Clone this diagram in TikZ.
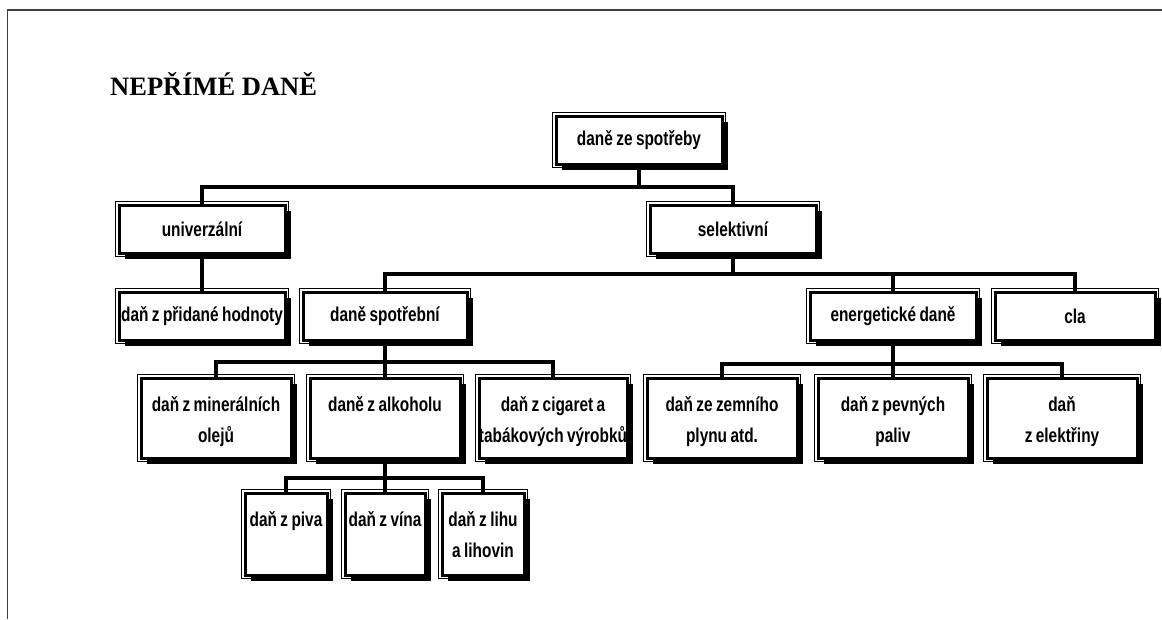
\documentclass[tikz,border=0pt]{standalone}
\usepackage{fontspec}
\setmainfont{Liberation Sans}[FakeStretch=0.77,WordSpace=0.8]
\newfontfamily\titlefont{Liberation Serif}
\usetikzlibrary{shadows}
\tikzset{
  tb/.style={draw, line width=3pt, fill=white, inner sep=0pt, align=center,
    drop shadow={shadow xshift=5.5pt, shadow yshift=-5.5pt, fill=black, opacity=1},
    font=\fontsize{20}{31}\selectfont\bfseries,
    execute at begin node={\spaceskip=\fontdimen2\font\xspaceskip=\fontdimen2\font\relax}},
  lv/.style={tb, minimum width=#1, minimum height=48pt},
  tall/.style 2 args={tb, text width=#1, text height=33pt, text depth=#2},
  conn/.style={line width=3.4pt, line cap=rect},
  thinframe/.style={line width=1.1pt},
}
\begin{document}
\begin{tikzpicture}[x=1pt,y=-1pt]
\useasboundingbox (0,0) rectangle (1162,619);
\fill[white] (0,0) rectangle (1162,619);
\draw[line width=1.4pt, black!75] (7.5,619) -- (7.5,10) -- (1162,10);

\node[anchor=base west, inner sep=0pt, font=\titlefont\bfseries\fontsize{26.5}{30}\selectfont] (title) at (110,95) {NEPŘÍMÉ DANĚ};

% level 1-2
\node[lv=166pt] (top) at (639,140) {daně ze spotřeby};
\node[lv=166pt] (univ) at (202,229) {univerzální};
\node[lv=166pt] (sel) at (733,229) {selektivní};
% level 3
\node[lv=166pt] (dph) at (202,316) {daň z přidané hodnoty};
\node[lv=164pt] (spot) at (385,316) {daně spotřební};
\node[lv=166pt] (energ) at (893,316) {energetické daně};
\node[lv=160pt] (cla) at (1075,316) {cla};
% level 4
\node[tall={150pt}{47pt}] (min) at (216,418) {daň z minerálních\\olejů};
\node[tall={150pt}{47pt}] (alk) at (385,418) {daně z alkoholu};
\node[tall={148pt}{47pt}] (cig) at (553,418) {daň z cigaret a\\\makebox[\linewidth]{tabákových výrobků}};
\node[tall={150pt}{47pt}] (zem) at (722,418) {daň ze zemního\\plynu atd.};
\node[tall={150pt}{47pt}] (pev) at (893,418) {daň z pevných\\paliv};
\node[tall={150pt}{47pt}] (ele) at (1062,418) {daň\\z elektřiny};
% level 5
\node[tall={82pt}{49pt}] (piv) at (286,534) {daň z piva};
\node[tall={80pt}{49pt}] (vin) at (385,534) {daň z vína};
\node[tall={82pt}{49pt}] (lih) at (483,534) {daň z lihu\\a lihovin};

\foreach \n in {top,univ,sel,dph,spot,energ,cla,min,alk,cig,zem,pev,ele,piv,vin,lih}
  \draw[thinframe] ([xshift=-2pt,yshift=2pt]\n.north west) rectangle ([xshift=2pt,yshift=-2pt]\n.south east);

% connectors
\coordinate (j1) at (639,187);
\draw[conn] (top.south) -- (j1);
\draw[conn] (univ.north) |- (j1);
\draw[conn] (sel.north) |- (j1);
\draw[conn] (univ.south) -- (dph.north);

\coordinate (j2) at (733,274);
\draw[conn] (sel.south) -- (j2);
\draw[conn] (spot.north) |- (j2);
\draw[conn] (energ.north) |- (j2);
\draw[conn] (cla.north) |- (j2);

\coordinate (j3) at (385,362);
\draw[conn] (spot.south) -- (j3);
\draw[conn] (min.north) |- (j3);
\draw[conn] (alk.north) -- (j3);
\draw[conn] (cig.north) |- (j3);

\coordinate (j4) at (893,364);
\draw[conn] (energ.south) -- (j4);
\draw[conn] (zem.north) |- (j4);
\draw[conn] (pev.north) -- (j4);
\draw[conn] (ele.north) |- (j4);

\coordinate (j5) at (385,478);
\draw[conn] (alk.south) -- (j5);
\draw[conn] (piv.north) |- (j5);
\draw[conn] (vin.north) -- (j5);
\draw[conn] (lih.north) |- (j5);
\end{tikzpicture}
\end{document}
